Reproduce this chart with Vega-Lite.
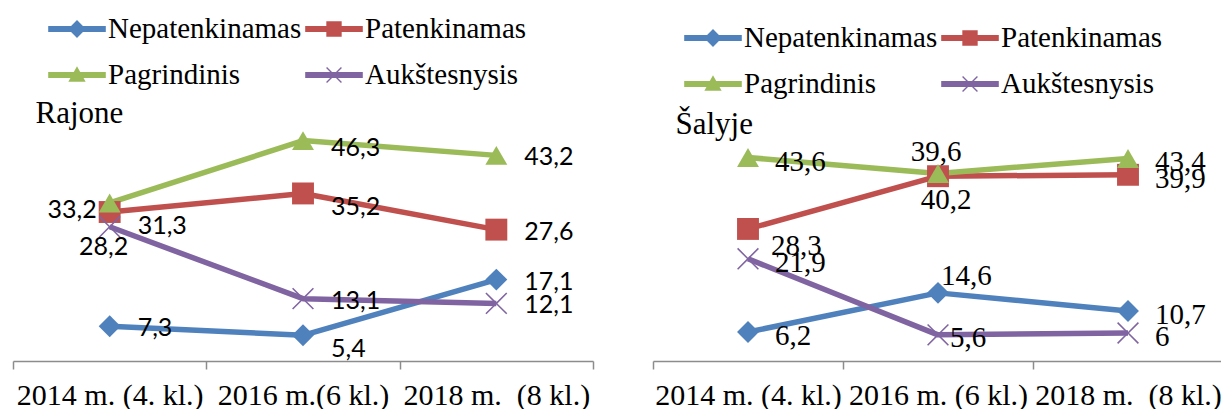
{
  "$schema": "https://vega.github.io/schema/vega-lite/v6.json",
  "background": "white",
  "padding": {"left": 12, "top": 5, "right": 0, "bottom": 0},
  "config": {
    "view": {"stroke": null},
    "locale": {"number": {"decimal": ",", "thousands": " ", "grouping": [3], "currency": ["", ""]}}
  },
  "datasets": {
    "rajone": [
      {"s": "Nepatenkinamas", "t": "2014 m. (4. kl.)", "v": 7.3},
      {"s": "Nepatenkinamas", "t": "2016 m.(6 kl.)", "v": 5.4},
      {"s": "Nepatenkinamas", "t": "2018 m.\u00a0 (8 kl.)", "v": 17.1},
      {"s": "Patenkinamas", "t": "2014 m. (4. kl.)", "v": 31.3},
      {"s": "Patenkinamas", "t": "2016 m.(6 kl.)", "v": 35.2},
      {"s": "Patenkinamas", "t": "2018 m.\u00a0 (8 kl.)", "v": 27.6},
      {"s": "Pagrindinis", "t": "2014 m. (4. kl.)", "v": 33.2},
      {"s": "Pagrindinis", "t": "2016 m.(6 kl.)", "v": 46.3},
      {"s": "Pagrindinis", "t": "2018 m.\u00a0 (8 kl.)", "v": 43.2},
      {"s": "Aukštesnysis", "t": "2014 m. (4. kl.)", "v": 28.2},
      {"s": "Aukštesnysis", "t": "2016 m.(6 kl.)", "v": 13.1},
      {"s": "Aukštesnysis", "t": "2018 m.\u00a0 (8 kl.)", "v": 12.1}
    ],
    "salyje": [
      {"s": "Nepatenkinamas", "t": "2014 m. (4. kl.)", "v": 6.2},
      {"s": "Nepatenkinamas", "t": "2016 m. (6 kl.)", "v": 14.6},
      {"s": "Nepatenkinamas", "t": "2018 m.\u00a0 (8 kl.)", "v": 10.7},
      {"s": "Patenkinamas", "t": "2014 m. (4. kl.)", "v": 28.3},
      {"s": "Patenkinamas", "t": "2016 m. (6 kl.)", "v": 39.6},
      {"s": "Patenkinamas", "t": "2018 m.\u00a0 (8 kl.)", "v": 39.9},
      {"s": "Pagrindinis", "t": "2014 m. (4. kl.)", "v": 43.6},
      {"s": "Pagrindinis", "t": "2016 m. (6 kl.)", "v": 40.2},
      {"s": "Pagrindinis", "t": "2018 m.\u00a0 (8 kl.)", "v": 43.4},
      {"s": "Aukštesnysis", "t": "2014 m. (4. kl.)", "v": 21.9},
      {"s": "Aukštesnysis", "t": "2016 m. (6 kl.)", "v": 5.6},
      {"s": "Aukštesnysis", "t": "2018 m.\u00a0 (8 kl.)", "v": 6}
    ]
  },
  "bounds": "flush",
  "spacing": 60,
  "resolve": {
    "scale": {"x": "independent", "y": "independent", "color": "independent", "shape": "independent"},
    "legend": {"color": "independent", "shape": "independent"}
  },
  "hconcat": [
    {
      "width": 580,
      "height": 238,
      "data": {"name": "rajone"},
      "resolve": {
        "scale": {"color": "independent", "shape": "independent"},
        "legend": {"color": "independent", "shape": "independent"}
      },
      "encoding": {
        "x": {
          "field": "t", "type": "nominal", "sort": null,
          "scale": {"type": "band", "domain": ["2014 m. (4. kl.)", "2016 m.(6 kl.)", "2018 m.\u00a0 (8 kl.)"], "paddingInner": 0, "paddingOuter": 0},
          "axis": {"title": null, "labelAngle": 0, "tickBand": "extent", "domainColor": "#8c8c8c", "tickColor": "#8c8c8c", "domainWidth": 1.5, "tickWidth": 1.5, "tickSize": 8, "labelFont": "Liberation Serif", "labelFontSize": 30, "labelColor": "black", "labelPadding": 11, "labelLimit": 0, "grid": false}
        },
        "y": {
          "field": "v", "type": "quantitative",
          "scale": {"domain": [0, 50], "nice": false, "zero": true},
          "axis": {"title": "Rajone", "labels": false, "ticks": false, "domain": false, "grid": false, "titleAngle": 0, "titleX": 22, "titleY": -1, "titleAlign": "left", "titleBaseline": "alphabetic", "titleFont": "Liberation Serif", "titleFontSize": 31, "titleFontWeight": "normal", "titleColor": "black"}
        }
      },
      "layer": [
        {
          "mark": {"type": "line", "strokeWidth": 5.5, "strokeJoin": "round"},
          "encoding": {
            "color": {"field": "s", "type": "nominal", "legend": null,
              "scale": {"domain": ["Nepatenkinamas", "Patenkinamas", "Pagrindinis", "Aukštesnysis"], "range": ["#4F81BD", "#C0504D", "#9BBB59", "#8064A2"]}}
          }
        },
        {
          "mark": {"type": "point", "filled": true, "opacity": 1, "size": 480},
          "encoding": {
            "color": {"field": "s", "type": "nominal", "legend": null,
              "scale": {"domain": ["Nepatenkinamas", "Patenkinamas", "Pagrindinis", "Aukštesnysis"], "range": ["#4F81BD", "#C0504D", "#9BBB59", "#8064A2"]}},
            "shape": {"field": "s", "type": "nominal", "legend": null,
              "scale": {"domain": ["Nepatenkinamas", "Patenkinamas", "Pagrindinis", "Aukštesnysis"], "range": ["diamond", "square", "triangle-up", "M-1,-0.9L-0.9,-1L0,-0.1L0.9,-1L1,-0.9L0.1,0L1,0.9L0.9,1L0,0.1L-0.9,1L-1,0.9L-0.1,0Z"]}}
          }
        },
        {
          "mark": {"type": "point", "filled": true, "opacity": 0},
          "encoding": {
            "color": {"field": "s", "type": "nominal",
              "scale": {"domain": ["Nepatenkinamas", "Patenkinamas", "Pagrindinis", "Aukštesnysis"], "range": ["#4F81BD", "#C0504D", "#9BBB59", "#8064A2"]},
              "legend": {"title": null, "orient": "none", "direction": "horizontal", "legendX": 40, "legendY": -118, "columns": 2, "symbolSize": 2304, "symbolOpacity": 1, "symbolStrokeWidth": 0, "labelFont": "Liberation Serif", "labelFontSize": 29, "labelColor": "black", "labelOffset": 7, "columnPadding": 3, "rowPadding": 7, "padding": 0, "labelLimit": 0}},
            "shape": {"field": "s", "type": "nominal",
              "scale": {"domain": ["Nepatenkinamas", "Patenkinamas", "Pagrindinis", "Aukštesnysis"], "range": [
                "M-1.2,-0.13H1.2V0.13H-1.2Z M0,-0.37L0.37,0L0,0.37L-0.37,0Z",
                "M-1.2,-0.13H1.2V0.13H-1.2Z M-0.32,-0.32H0.32V0.32H-0.32Z",
                "M-1.2,-0.13H1.2V0.13H-1.2Z M0,-0.36L0.36,0.28L-0.36,0.28Z",
                "M-1.2,-0.13H1.2V0.13H-1.2Z M-0.33,-0.29L-0.29,-0.33L0,-0.04L0.29,-0.33L0.33,-0.29L0.04,0L0.33,0.29L0.29,0.33L0,0.04L-0.29,0.33L-0.33,0.29L-0.04,0Z"]},
              "legend": {"title": null, "orient": "none", "direction": "horizontal", "legendX": 40, "legendY": -118, "columns": 2, "symbolSize": 2304, "symbolOpacity": 1, "symbolStrokeWidth": 0, "labelFont": "Liberation Serif", "labelFontSize": 29, "labelColor": "black", "labelOffset": 7, "columnPadding": 3, "rowPadding": 7, "padding": 0, "labelLimit": 0}}
          }
        },
        {
          "transform": [{"filter": "indexof([7.3, 17.1, 27.6, 43.2, 13.1, 12.1], datum.v) >= 0"}],
          "mark": {"type": "text", "align": "left", "baseline": "middle", "dx": 28, "dy": 2, "font": "Lato", "fontSize": 25, "color": "black"},
          "encoding": {"text": {"field": "v", "type": "quantitative", "format": ".1~f"}}
        },
        {
          "transform": [{"filter": "indexof([5.4, 31.3, 35.2], datum.v) >= 0"}],
          "mark": {"type": "text", "align": "left", "baseline": "middle", "dx": 28, "dy": 14, "font": "Lato", "fontSize": 25, "color": "black"},
          "encoding": {"text": {"field": "v", "type": "quantitative", "format": ".1~f"}}
        },
        {
          "transform": [{"filter": "datum.v == 46.3"}],
          "mark": {"type": "text", "align": "left", "baseline": "middle", "dx": 28, "dy": 7, "font": "Lato", "fontSize": 25, "color": "black"},
          "encoding": {"text": {"field": "v", "type": "quantitative", "format": ".1~f"}}
        },
        {
          "transform": [{"filter": "datum.v == 33.2"}],
          "mark": {"type": "text", "align": "right", "baseline": "middle", "dx": -13, "dy": 7, "font": "Lato", "fontSize": 25, "color": "black"},
          "encoding": {"text": {"field": "v", "type": "quantitative", "format": ".1~f"}}
        },
        {
          "transform": [{"filter": "datum.v == 28.2"}],
          "mark": {"type": "text", "align": "center", "baseline": "middle", "dx": -6, "dy": 20, "font": "Lato", "fontSize": 25, "color": "black"},
          "encoding": {"text": {"field": "v", "type": "quantitative", "format": ".1~f"}}
        }
      ]
    },
    {
      "width": 570,
      "height": 238,
      "data": {"name": "salyje"},
      "resolve": {
        "scale": {"color": "independent", "shape": "independent"},
        "legend": {"color": "independent", "shape": "independent"}
      },
      "encoding": {
        "x": {
          "field": "t", "type": "nominal", "sort": null,
          "scale": {"type": "band", "domain": ["2014 m. (4. kl.)", "2016 m. (6 kl.)", "2018 m.\u00a0 (8 kl.)"], "paddingInner": 0, "paddingOuter": 0},
          "axis": {"title": null, "labelAngle": 0, "tickBand": "extent", "domainColor": "#8c8c8c", "tickColor": "#8c8c8c", "domainWidth": 1.5, "tickWidth": 1.5, "tickSize": 8, "labelFont": "Liberation Serif", "labelFontSize": 30, "labelColor": "black", "labelPadding": 11, "labelLimit": 0, "grid": false}
        },
        "y": {
          "field": "v", "type": "quantitative",
          "scale": {"domain": [0, 51], "nice": false, "zero": true},
          "axis": {"title": "Šalyje", "labels": false, "ticks": false, "domain": false, "grid": false, "titleAngle": 0, "titleX": 22, "titleY": 10, "titleAlign": "left", "titleBaseline": "alphabetic", "titleFont": "Liberation Serif", "titleFontSize": 31, "titleFontWeight": "normal", "titleColor": "black"}
        }
      },
      "layer": [
        {
          "mark": {"type": "line", "strokeWidth": 5.5, "strokeJoin": "round"},
          "encoding": {
            "color": {"field": "s", "type": "nominal", "legend": null,
              "scale": {"domain": ["Nepatenkinamas", "Patenkinamas", "Pagrindinis", "Aukštesnysis"], "range": ["#4F81BD", "#C0504D", "#9BBB59", "#8064A2"]}}
          }
        },
        {
          "mark": {"type": "point", "filled": true, "opacity": 1, "size": 480},
          "encoding": {
            "color": {"field": "s", "type": "nominal", "legend": null,
              "scale": {"domain": ["Nepatenkinamas", "Patenkinamas", "Pagrindinis", "Aukštesnysis"], "range": ["#4F81BD", "#C0504D", "#9BBB59", "#8064A2"]}},
            "shape": {"field": "s", "type": "nominal", "legend": null,
              "scale": {"domain": ["Nepatenkinamas", "Patenkinamas", "Pagrindinis", "Aukštesnysis"], "range": ["diamond", "square", "triangle-up", "M-1,-0.9L-0.9,-1L0,-0.1L0.9,-1L1,-0.9L0.1,0L1,0.9L0.9,1L0,0.1L-0.9,1L-1,0.9L-0.1,0Z"]}}
          }
        },
        {
          "mark": {"type": "point", "filled": true, "opacity": 0},
          "encoding": {
            "color": {"field": "s", "type": "nominal",
              "scale": {"domain": ["Nepatenkinamas", "Patenkinamas", "Pagrindinis", "Aukštesnysis"], "range": ["#4F81BD", "#C0504D", "#9BBB59", "#8064A2"]},
              "legend": {"title": null, "orient": "none", "direction": "horizontal", "legendX": 36, "legendY": -109, "columns": 2, "symbolSize": 2304, "symbolOpacity": 1, "symbolStrokeWidth": 0, "labelFont": "Liberation Serif", "labelFontSize": 29, "labelColor": "black", "labelOffset": 7, "columnPadding": 3, "rowPadding": 7, "padding": 0, "labelLimit": 0}},
            "shape": {"field": "s", "type": "nominal",
              "scale": {"domain": ["Nepatenkinamas", "Patenkinamas", "Pagrindinis", "Aukštesnysis"], "range": [
                "M-1.2,-0.13H1.2V0.13H-1.2Z M0,-0.37L0.37,0L0,0.37L-0.37,0Z",
                "M-1.2,-0.13H1.2V0.13H-1.2Z M-0.32,-0.32H0.32V0.32H-0.32Z",
                "M-1.2,-0.13H1.2V0.13H-1.2Z M0,-0.36L0.36,0.28L-0.36,0.28Z",
                "M-1.2,-0.13H1.2V0.13H-1.2Z M-0.33,-0.29L-0.29,-0.33L0,-0.04L0.29,-0.33L0.33,-0.29L0.04,0L0.33,0.29L0.29,0.33L0,0.04L-0.29,0.33L-0.33,0.29L-0.04,0Z"]},
              "legend": {"title": null, "orient": "none", "direction": "horizontal", "legendX": 36, "legendY": -109, "columns": 2, "symbolSize": 2304, "symbolOpacity": 1, "symbolStrokeWidth": 0, "labelFont": "Liberation Serif", "labelFontSize": 29, "labelColor": "black", "labelOffset": 7, "columnPadding": 3, "rowPadding": 7, "padding": 0, "labelLimit": 0}}
          }
        },
        {
          "transform": [{"filter": "indexof([6.2, 10.7, 39.9, 43.6, 43.4, 6, 21.9], datum.v) >= 0"}],
          "mark": {"type": "text", "align": "left", "baseline": "middle", "dx": 27, "dy": 4, "font": "Liberation Serif", "fontSize": 29, "color": "black"},
          "encoding": {"text": {"field": "v", "type": "quantitative", "format": ".1~f"}}
        },
        {
          "transform": [{"filter": "datum.v == 28.3"}],
          "mark": {"type": "text", "align": "left", "baseline": "middle", "dx": 23, "dy": 17, "font": "Liberation Serif", "fontSize": 29, "color": "black"},
          "encoding": {"text": {"field": "v", "type": "quantitative", "format": ".1~f"}}
        },
        {
          "transform": [{"filter": "datum.v == 14.6"}],
          "mark": {"type": "text", "align": "left", "baseline": "middle", "dx": 3, "dy": -17, "font": "Liberation Serif", "fontSize": 29, "color": "black"},
          "encoding": {"text": {"field": "v", "type": "quantitative", "format": ".1~f"}}
        },
        {
          "transform": [{"filter": "datum.v == 39.6"}],
          "mark": {"type": "text", "align": "center", "baseline": "middle", "dx": -2, "dy": -24, "font": "Liberation Serif", "fontSize": 29, "color": "black"},
          "encoding": {"text": {"field": "v", "type": "quantitative", "format": ".1~f"}}
        },
        {
          "transform": [{"filter": "datum.v == 40.2"}],
          "mark": {"type": "text", "align": "center", "baseline": "middle", "dx": 8, "dy": 27, "font": "Liberation Serif", "fontSize": 29, "color": "black"},
          "encoding": {"text": {"field": "v", "type": "quantitative", "format": ".1~f"}}
        },
        {
          "transform": [{"filter": "datum.v == 5.6"}],
          "mark": {"type": "text", "align": "left", "baseline": "middle", "dx": 12, "dy": 3, "font": "Liberation Serif", "fontSize": 29, "color": "black"},
          "encoding": {"text": {"field": "v", "type": "quantitative", "format": ".1~f"}}
        }
      ]
    }
  ]
}
